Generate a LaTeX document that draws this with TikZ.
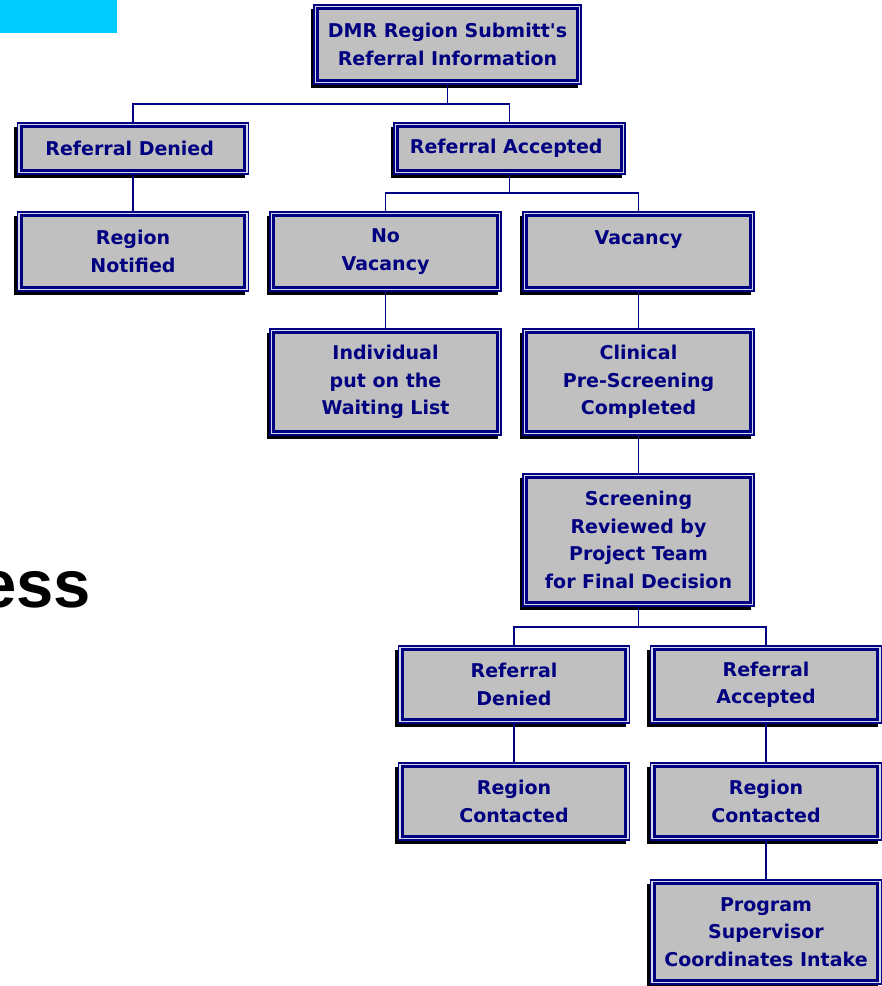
\documentclass[tikz,border=0pt]{standalone}
\usepackage{fontspec}
\usepackage{xcolor}
\usepackage{tikz}
\usetikzlibrary{positioning,shadows,calc}

\newfontfamily\boxfont{DejaVu Sans}
\newfontfamily\titlefont{Liberation Sans}

\definecolor{navyc}{RGB}{0,0,128}
\definecolor{silverc}{RGB}{192,192,192}
\definecolor{gapc}{RGB}{214,214,236}
\definecolor{bannerc}{RGB}{0,204,255}

\begin{document}
\begin{tikzpicture}[
		x=1pt, y=-1pt,
		box/.style={
			draw=navyc,
			line width=1.5pt,
			fill=gapc,
			inner sep=0pt,
			outer sep=0pt,
			align=center,
			minimum width=231pt,
			text=navyc,
			font=\boxfont\bfseries\fontsize{19}{27.5}\selectfont,
			drop shadow={shadow xshift=-3.5pt, shadow yshift=-3.5pt, fill=black, opacity=1},
			path picture={
				\draw[navyc, line width=3pt, fill=silverc]
				([shift={(3.8pt,3.8pt)}]path picture bounding box.south west) rectangle
				([shift={(-3.8pt,-3.8pt)}]path picture bounding box.north east);
			}
		},
		link/.style={draw=navyc, line width=1.4pt}
		]
		\useasboundingbox (0,0) rectangle (882,986);
		
		% Title remains
		\fill[bannerc] (0,0) rectangle (117,33);
		\node[anchor=base east, inner sep=0pt,
		font=\titlefont\bfseries\fontsize{67}{70}\selectfont] (title) at (91,607) {ess};
		
		% Top of the chart
		\node[box, minimum width=267pt, minimum height=79pt] (submit) at (447.5,44.5) {
			DMR Region Submitt's\\
			Referral Information
		};
		
		% First decision
		\node[box, minimum height=51pt, below=39pt of submit, xshift=-314.5pt] (denied) {
			Referral Denied
		};
		\node[box, minimum height=51pt, below=39pt of submit, xshift=62pt] (accepted) {
			Referral Accepted
		};
		\node[box, minimum height=79pt, below=38pt of denied] (notified) {
			Region\\
			Notified
		};
		
		% Vacancy check
		\node[box, minimum height=79pt, below=38pt of accepted, xshift=-124pt] (novacancy) {
			No\\
			Vacancy
		};
		\node[box, minimum height=79pt, right=22pt of novacancy] (vacancy) {
			Vacancy\\
			~
		};
		\node[box, minimum height=106pt, below=38pt of novacancy] (waiting) {
			Individual\\
			put on the\\
			Waiting List
		};
		\node[box, minimum height=106pt, below=38pt of vacancy] (prescreen) {
			Clinical\\
			Pre-Screening\\
			Completed
		};
		\node[box, minimum height=132pt, below=39pt of prescreen] (review) {
			Screening\\
			Reviewed by\\
			Project Team\\
			for Final Decision
		};
		
		% Final decision
		\node[box, minimum height=77pt, below=40pt of review, xshift=-124.5pt] (denied2) {
			Referral\\
			Denied
		};
		\node[box, minimum height=77pt, right=21pt of denied2] (accepted2) {
			Referral\\
			Accepted
		};
		\node[box, minimum height=77pt, below=40pt of denied2] (contacted) {
			Region\\
			Contacted
		};
		\node[box, minimum height=77pt, below=40pt of accepted2] (contacted2) {
			Region\\
			Contacted
		};
		\node[box, minimum height=104pt, below=40pt of contacted2] (intake) {
			Program\\
			Supervisor\\
			Coordinates Intake
		};
		
		% Connectors
		\draw[link] (submit.south) -- ++(0,20) -| (denied.north);
		\draw[link] (submit.south) -- ++(0,20) -| (accepted.north);
		\draw[link] (denied.south) -- (notified.north);
		\draw[link] (accepted.south) -- ++(0,19) -| (novacancy.north);
		\draw[link] (accepted.south) -- ++(0,19) -| (vacancy.north);
		\draw[link] (novacancy.south) -- (waiting.north);
		\draw[link] (vacancy.south) -- (prescreen.north);
		\draw[link] (prescreen.south) -- (review.north);
		\draw[link] (review.south) -- ++(0,21) -| (denied2.north);
		\draw[link] (review.south) -- ++(0,21) -| (accepted2.north);
		\draw[link] (denied2.south) -- (contacted.north);
		\draw[link] (accepted2.south) -- (contacted2.north);
		\draw[link] (contacted2.south) -- (intake.north);
		
	\end{tikzpicture}
\end{document}
